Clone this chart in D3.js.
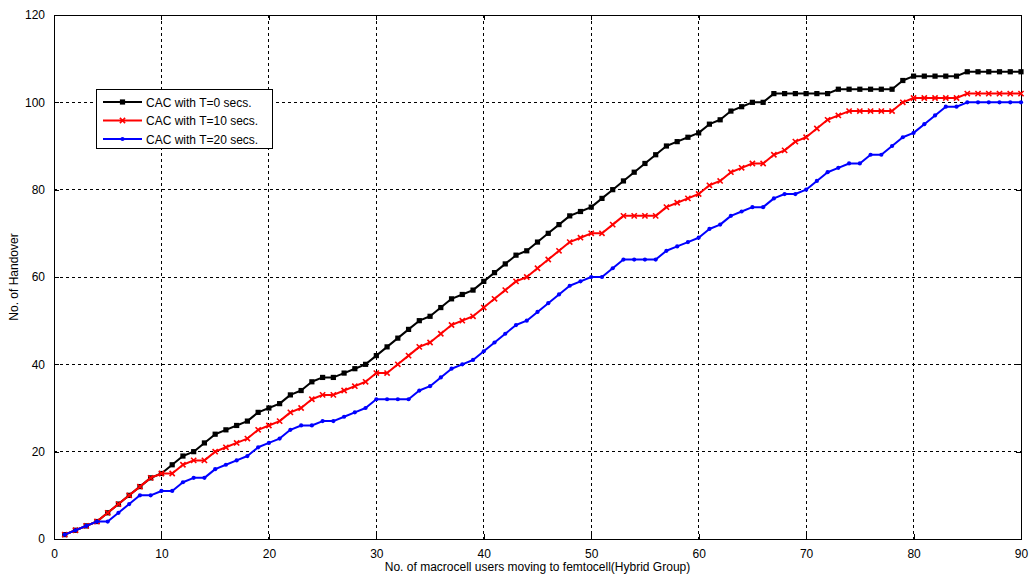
<!DOCTYPE html>
<html>
<head>
<meta charset="utf-8">
<script src="https://cdn.jsdelivr.net/npm/d3@7"></script>
<style>
  html, body { margin: 0; padding: 0; background: #fff; }
  svg { display: block; font-family: "Liberation Sans", Arial, sans-serif; }
</style>
</head>
<body>
<svg id="chart" width="1029" height="579"></svg>
<script>
// ---- data ----
const xValues = d3.range(1, 91);
const seriesNames = ["CAC with T=0 secs.", "CAC with T=10 secs.", "CAC with T=20 secs."];
const cacT0 = [1,2,3,4,6,8,10,12,14,15, 17,19,20,22,24,25,26,27,29,30,
  31,33,34,36,37,37,38,39,40,42, 44,46,48,50,51,53,55,56,57,59,
  61,63,65,66,68,70,72,74,75,76, 78,80,82,84,86,88,90,91,92,93,
  95,96,98,99,100,100,102,102,102,102, 102,102,103,103,103,103,103,103,105,106,
  106,106,106,106,107,107,107,107,107,107];
const cacT10 = [1,2,3,4,6,8,10,12,14,15, 15,17,18,18,20,21,22,23,25,26,
  27,29,30,32,33,33,34,35,36,38, 38,40,42,44,45,47,49,50,51,53,
  55,57,59,60,62,64,66,68,69,70, 70,72,74,74,74,74,76,77,78,79,
  81,82,84,85,86,86,88,89,91,92, 94,96,97,98,98,98,98,98,100,101,
  101,101,101,101,102,102,102,102,102,102];
const cacT20 = [1,2,3,4,4,6,8,10,10,11, 11,13,14,14,16,17,18,19,21,22,
  23,25,26,26,27,27,28,29,30,32, 32,32,32,34,35,37,39,40,41,43,
  45,47,49,50,52,54,56,58,59,60, 60,62,64,64,64,64,66,67,68,69,
  71,72,74,75,76,76,78,79,79,80, 82,84,85,86,86,88,88,90,92,93,
  95,97,99,99,100,100,100,100,100,100];
const xTicks = [0,10,20,30,40,50,60,70,80,90];
const yTicks = [0,20,40,60,80,100,120];
const xLabel = "No. of macrocell users moving to femtocell(Hybrid Group)";
const yLabel = "No. of Handover";

// ---- layout ----
const svg = d3.select("#chart");
const L = 54, R = 1021, T = 15, B = 539;
const x = d3.scaleLinear().domain([0, 90]).range([L, R]);
const y = d3.scaleLinear().domain([0, 120]).range([B, T]);

// grid
const grid = svg.append("g");
grid.selectAll("line.vx").data(xTicks.slice(1, -1)).enter().append("line")
  .attr("x1", d => x(d)).attr("x2", d => x(d)).attr("y1", T).attr("y2", B)
  .attr("stroke", "#000").attr("stroke-width", 1).attr("stroke-dasharray", "3,3")
  .attr("shape-rendering", "crispEdges");
grid.selectAll("line.hy").data(yTicks.slice(1, -1)).enter().append("line")
  .attr("y1", d => y(d)).attr("y2", d => y(d)).attr("x1", L).attr("x2", R)
  .attr("stroke", "#000").attr("stroke-width", 1).attr("stroke-dasharray", "3,3")
  .attr("shape-rendering", "crispEdges");

// axes
const axB = svg.append("g").attr("transform", `translate(0,${B})`)
  .call(d3.axisBottom(x).tickValues(xTicks).tickSize(-5).tickPadding(10).tickFormat(d3.format("d")));
const axT = svg.append("g").attr("transform", `translate(0,${T})`)
  .call(d3.axisTop(x).tickValues(xTicks).tickSize(-5).tickFormat(""));
const axLft = svg.append("g").attr("transform", `translate(${L},0)`)
  .call(d3.axisLeft(y).tickValues(yTicks).tickSize(-5).tickPadding(9).tickFormat(d3.format("d")));
const axRt = svg.append("g").attr("transform", `translate(${R},0)`)
  .call(d3.axisRight(y).tickValues(yTicks).tickSize(-5).tickFormat(""));
[axB, axT, axLft, axRt].forEach(g => {
  g.selectAll("path.domain").attr("stroke", "#000").attr("stroke-width", 1).attr("shape-rendering", "crispEdges");
  g.selectAll(".tick line").attr("stroke", "#000").attr("shape-rendering", "crispEdges");
  g.selectAll("text").attr("font-size", 12).attr("fill", "#000")
    .attr("font-family", "'Liberation Sans', Arial, sans-serif");
});

// labels
svg.append("text").attr("x", (L + R) / 2).attr("y", 571).attr("text-anchor", "middle")
  .attr("font-size", 12).attr("fill", "#000").text(xLabel);
svg.append("text").attr("transform", `translate(18,${(T + B) / 2}) rotate(-90)`)
  .attr("text-anchor", "middle").attr("font-size", 12).attr("fill", "#000").text(yLabel);

// series
const series = [
  { name: seriesNames[0], values: cacT0, color: "#000000", marker: "square" },
  { name: seriesNames[1], values: cacT10, color: "#ff0000", marker: "x" },
  { name: seriesNames[2], values: cacT20, color: "#0000ff", marker: "dot" }
];
const line = d3.line().x((d, i) => x(xValues[i])).y(d => y(d));

function drawMarker(g, type, color, cx, cy) {
  if (type === "square") {
    g.append("rect").attr("x", cx - 2.6).attr("y", cy - 2.6).attr("width", 5.2).attr("height", 5.2)
      .attr("fill", color);
  } else if (type === "x") {
    g.append("path").attr("d", `M${cx-2.6},${cy-2.6}L${cx+2.6},${cy+2.6}M${cx-2.6},${cy+2.6}L${cx+2.6},${cy-2.6}`)
      .attr("stroke", color).attr("stroke-width", 1.6);
  } else {
    g.append("circle").attr("cx", cx).attr("cy", cy).attr("r", 2.1).attr("fill", color);
  }
}

series.forEach(s => {
  const g = svg.append("g");
  g.append("path").datum(s.values).attr("d", line).attr("fill", "none")
    .attr("stroke", s.color).attr("stroke-width", 2).attr("stroke-linejoin", "round");
  s.values.forEach((v, i) => drawMarker(g, s.marker, s.color, x(xValues[i]), y(v)));
});

// legend
const lg = svg.append("g");
lg.append("rect").attr("x", 96.5).attr("y", 89.5).attr("width", 176).attr("height", 59)
  .attr("fill", "#fff").attr("stroke", "#000").attr("stroke-width", 1);
series.forEach((s, i) => {
  const yy = 102 + i * 18.5;
  lg.append("line").attr("x1", 103).attr("x2", 142).attr("y1", yy).attr("y2", yy)
    .attr("stroke", s.color).attr("stroke-width", 2);
  drawMarker(lg, s.marker, s.color, 122.5, yy);
  lg.append("text").attr("x", 146).attr("y", yy + 4.5).attr("font-size", 12).attr("fill", "#000").text(s.name);
});
</script>
</body>
</html>
